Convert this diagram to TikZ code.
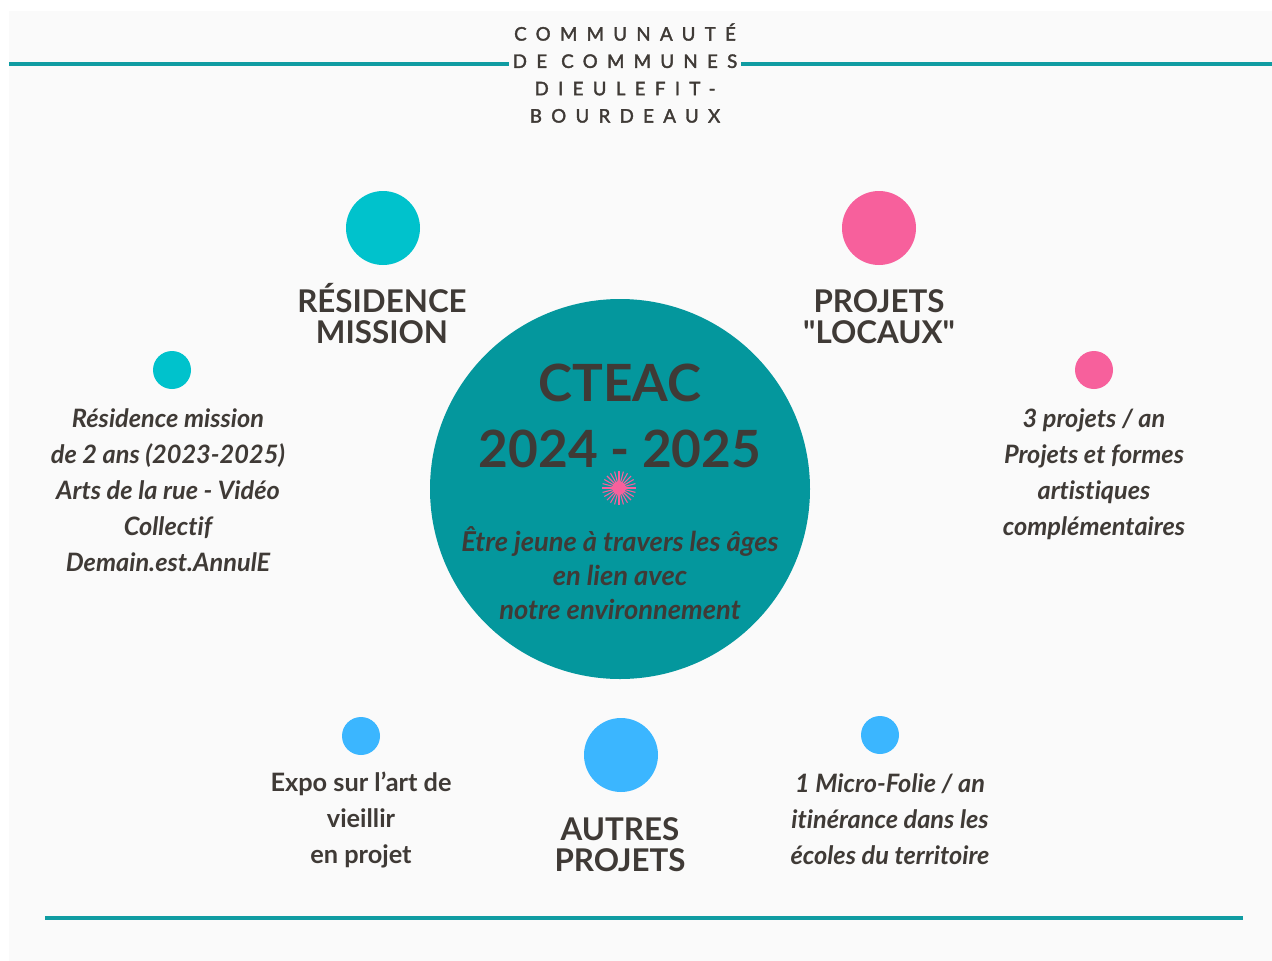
\documentclass[tikz,border=0pt]{standalone}
\usepackage{fontspec}
\setmainfont{Lato}[Ligatures=NoCommon]
\newfontfamily\headfont[LetterSpace=50,FakeBold=2]{Lato}
\newfontfamily\titlefont{Lato}
\definecolor{bgc}{RGB}{250,250,250}
\definecolor{tealc}{RGB}{4,151,157}
\definecolor{linec}{RGB}{16,156,162}
\definecolor{cyanc}{RGB}{0,194,204}
\definecolor{pinkc}{RGB}{247,96,156}
\definecolor{bluec}{RGB}{59,182,255}
\definecolor{txt}{RGB}{63,58,54}
\begin{document}
\begin{tikzpicture}[x=0.75pt,y=-0.75pt,
  dot/.style={circle,inner sep=0pt,draw=none},
  bigdot/.style={dot,minimum size=55.5pt},
  smalldot/.style={dot,minimum size=28.5pt},
  bigtitle/.style={text=txt,align=center,font=\titlefont\bfseries\fontsize{23.5}{23.3}\selectfont},
  smalltxt/.style={text=txt,align=center,font=\bfseries\itshape\fontsize{19}{27}\selectfont},
  rule/.style={draw=linec,line width=2.3pt}]
\useasboundingbox (0,0) rectangle (1272,961);
\fill[white] (0,0) rectangle (1272,961);
\fill[bgc] (9,11) rectangle (1272,961);
% rules
\coordinate (tl) at (9,64);
\coordinate (tr) at (1272,64);
\coordinate (bl) at (45,918);
\coordinate (br) at (1243,918);
\draw[rule] (tl) -- (tr);
\draw[rule] (bl) -- (br);
\node[fill=bgc,text=txt,align=center,inner xsep=3pt,inner ysep=2pt,
  font=\headfont\fontsize{14}{20.5}\selectfont] (head) at (625,73)
  {COMMUNAUTÉ\\DE COMMUNES\\DIEULEFIT-\\BOURDEAUX};
% centre
\node[dot,fill=tealc,minimum size=285pt] (centre) at (620,489) {};
\node[text=txt,align=center,font=\bfseries\fontsize{38.5}{49}\selectfont] (cteac) at (620,416) {CTEAC\\2024 - 2025};
\foreach \a in {0,15,...,345}{
  \draw[pinkc,line width=0.8pt] (619,488) -- ++(\a:17);
}
\node[dot,fill=pinkc,minimum size=10pt] (spark) at (619,488) {};
\node[text=txt,align=center,font=\bfseries\itshape\fontsize{20.5}{25.5}\selectfont] (motto) at (620,573)
  {Être jeune à travers les âges\\en lien avec\\notre environnement};
% top left
\node[bigdot,fill=cyanc] (c1) at (383,228) {};
\node[bigtitle] (t1) at (382,314) {RÉSIDENCE\\MISSION};
\node[smalldot,fill=cyanc] (s1) at (172,370) {};
\node[smalltxt] (d1) at (168,490) {Résidence mission\\de 2 ans (2023-2025)\\Arts de la rue - Vidéo\\Collectif\\Demain.est.AnnulE};
% top right
\node[bigdot,fill=pinkc] (c2) at (879,228) {};
\node[bigtitle] (t2) at (879,317) {PROJETS\\"LOCAUX"};
\node[smalldot,fill=pinkc] (s2) at (1094,370) {};
\node[smalltxt] (d2) at (1094,474) {3 projets / an\\Projets et formes\\artistiques\\complémentaires};
% bottom
\node[bigdot,fill=bluec] (c3) at (621,755) {};
\node[bigtitle] (t3) at (620,845) {AUTRES\\PROJETS};
\node[smalldot,fill=bluec] (s3) at (361,736) {};
\node[text=txt,align=center,font=\bfseries\fontsize{19}{27}\selectfont] (d3) at (361,820) {Expo sur l’art de\\vieillir\\en projet};
\node[smalldot,fill=bluec] (s4) at (880,735) {};
\node[smalltxt] (d4) at (890,819) {1 Micro-Folie / an\\itinérance dans les\\écoles du territoire};
\end{tikzpicture}
\end{document}
